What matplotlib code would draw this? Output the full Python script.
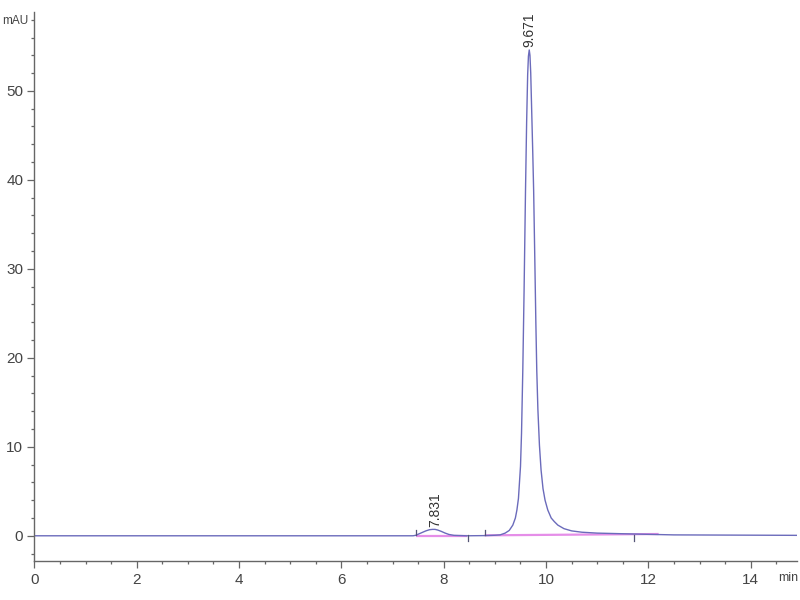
import matplotlib
matplotlib.use("Agg")
import matplotlib.pyplot as plt
from matplotlib import font_manager
from matplotlib.ticker import MultipleLocator, FixedLocator

# ---- data ----
time_min = [0.0, 2.0, 4.0, 6.0, 7.40, 7.45, 7.55, 7.65, 7.72, 7.78, 7.83, 7.88,
            7.95, 8.02, 8.10, 8.20, 8.45, 8.80, 9.00, 9.10, 9.20, 9.28, 9.35,
            9.40, 9.43, 9.46, 9.50, 9.52, 9.545, 9.57, 9.598, 9.62, 9.64,
            9.655, 9.671, 9.685, 9.70, 9.72, 9.74, 9.757, 9.78, 9.80, 9.818,
            9.84, 9.87, 9.902, 9.94, 9.98, 10.033, 10.10, 10.16, 10.23, 10.35,
            10.50, 10.70, 11.0, 11.7, 12.5, 14.9]
signal_mau = [0.0, 0.0, 0.0, 0.0, 0.0, 0.05, 0.3, 0.55, 0.68, 0.72, 0.72, 0.65,
              0.5, 0.32, 0.15, 0.05, 0.0, 0.02, 0.06, 0.1, 0.3, 0.6, 1.2,
              2.0, 2.9, 4.2, 7.8, 11.5, 18.6, 27.5, 38.8, 46.5, 51.8,
              53.9, 54.6, 54.0, 52.0, 47.5, 43.0, 38.8, 31.0, 24.0, 18.6,
              14.2, 10.2, 7.4, 5.3, 4.0, 2.9, 2.0, 1.6, 1.2, 0.8,
              0.55, 0.4, 0.3, 0.2, 0.1, 0.05]

peak_times = [7.831, 9.671]
peak_heights = [0.72, 54.6]
peak_labels = ["7.831", "9.671"]

baseline_segments = [([7.45, 8.45], [0.0, 0.0]), ([8.80, 12.2], [0.05, 0.2])]
event_times = [7.45, 8.47, 8.80, 11.72]
event_dirs = [1, -1, 1, -1]

x_ticks = [0, 2, 4, 6, 8, 10, 12, 14]
y_ticks = [0, 10, 20, 30, 40, 50]

# ---- fonts ----
names = {f.name for f in font_manager.fontManager.ttflist}
tick_font = ["Liberation Sans Narrow", "Liberation Sans", "DejaVu Sans"]
tick_font = [f for f in tick_font if f in names] or ["DejaVu Sans"]
lab_font = [f for f in ["Liberation Sans", "DejaVu Sans"] if f in names]

fig = plt.figure(figsize=(8, 6), dpi=100)
ax = fig.add_axes([0.043, 0.0655, 0.953, 0.915])

trace_color = "#6b6bbb"
pink = "#e58ee8"
gray = "#666666"

for xs, ys in baseline_segments:
    ax.plot(xs, ys, color=pink, lw=1.6, zorder=1, solid_capstyle="butt")
ax.plot(time_min, signal_mau, color=trace_color, lw=1.0, zorder=2)

for t, d in zip(event_times, event_dirs):
    ax.plot([t, t], [0.05, 0.05 + d * 0.6], color="#555577", lw=0.9, zorder=3)

for t, h, lab in zip(peak_times, peak_heights, peak_labels):
    ax.annotate(lab, xy=(t, h), xytext=(0, 2), textcoords="offset points",
                rotation=90, ha="center", va="bottom", fontsize=10,
                color="#333333", family=lab_font)

ax.set_xlim(0, 14.9)
ax.set_ylim(-2.8, 58.9)

for s in ["top", "right"]:
    ax.spines[s].set_visible(False)
for s in ["left", "bottom"]:
    ax.spines[s].set_color(gray)
    ax.spines[s].set_linewidth(1.0)

ax.xaxis.set_major_locator(FixedLocator(x_ticks))
ax.xaxis.set_minor_locator(MultipleLocator(0.5))
ax.yaxis.set_major_locator(FixedLocator(y_ticks))
ax.yaxis.set_minor_locator(MultipleLocator(2))
ax.tick_params(axis="both", which="major", length=5, width=0.9, color=gray,
               labelcolor="#444444", labelsize=11, direction="out")
ax.tick_params(axis="both", which="minor", length=2.5, width=0.9, color=gray,
               direction="out")
ax.tick_params(axis="x", pad=4)
ax.tick_params(axis="y", pad=3)
for lab in ax.get_xticklabels() + ax.get_yticklabels():
    lab.set_family(tick_font)

ax.text(-0.008, 57.9, "mAU", transform=ax.get_yaxis_transform(), ha="right",
        va="center", fontsize=8.5, color="#444444", family=tick_font)
ax.text(14.54, -0.032, "min", transform=ax.get_xaxis_transform(), ha="left",
        va="center", fontsize=9, color="#444444", family=tick_font)

fig.savefig("out.png", dpi=100)
